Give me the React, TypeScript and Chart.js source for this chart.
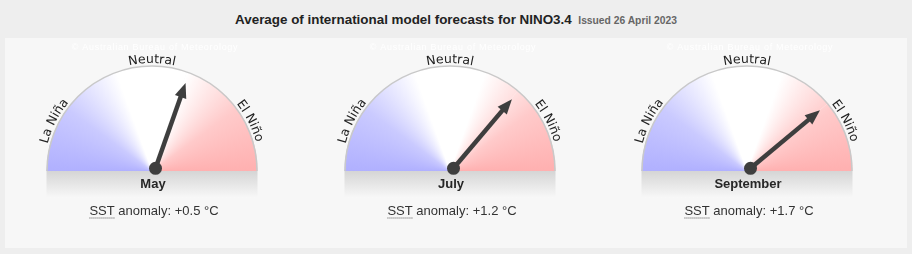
import React, { useEffect, useRef } from "react";
import { Chart, registerables } from "chart.js";

Chart.register(...registerables);

// ---- data ----
const titleText = "Average of international model forecasts for NINO3.4";
const issuedText = "Issued 26 April 2023";
const months = ["May", "July", "September"];
const anomalies = [0.5, 1.2, 1.7];
const phaseLabels = ["La Niña", "Neutral", "El Niño"];
const phaseAngles = [-63, 0, 63];
const watermarkText = "© Australian Bureau of Meteorology";

// ---- dial scale: maps an anomaly (°C) to a fraction of the half dial ----
const DIAL_SCALE = 1.42;
function needleFraction(v: number) {
  const t = Math.atan(v / DIAL_SCALE) / (Math.PI / 2); // -1..1
  return 0.5 + t / 2;
}

// ---- layout ----
const gaugeCenters = [152.2, 450, 746.7];
const CANVAS_W = 300;
const CANVAS_H = 209;
const DIAL_CY = 133;
const DIAL_R = 105.5;
const SANS = "'Liberation Sans', Arial, Helvetica, sans-serif";

function drawArcText(ctx: CanvasRenderingContext2D, text: string, cx: number, cy: number, radius: number, center: number) {
  const total = ctx.measureText(text).width;
  let a = center - total / 2 / radius;
  for (const ch of Array.from(text)) {
    const w = ctx.measureText(ch).width;
    const mid = a + w / 2 / radius;
    ctx.save();
    ctx.translate(cx + radius * Math.sin(mid), cy - radius * Math.cos(mid));
    ctx.rotate(mid);
    ctx.textAlign = "center";
    ctx.textBaseline = "alphabetic";
    ctx.fillText(ch, 0, 0);
    ctx.restore();
    a += w / radius;
  }
}

const gaugePlugin = {
  id: "gauge",
  afterDatasetsDraw(chart: any, _args: any, opts: any) {
    const ctx: CanvasRenderingContext2D = chart.ctx;
    const arc = chart.getDatasetMeta(0).data[0];
    const { x: cx, y: cy, outerRadius: r, endAngle } = arc.getProps(["x", "y", "outerRadius", "endAngle"], true);
    ctx.save();

    // outer rim
    ctx.beginPath();
    ctx.arc(cx, cy, r - 0.5, Math.PI, 2 * Math.PI);
    ctx.strokeStyle = "#c9c9c9";
    ctx.lineWidth = 1.5;
    ctx.stroke();

    // grey band
    const band = ctx.createLinearGradient(0, cy, 0, cy + 27);
    band.addColorStop(0, "#d5d5d5");
    band.addColorStop(1, "#f8f8f8");
    ctx.fillStyle = band;
    ctx.fillRect(cx - r, cy, 2 * r, 27);

    // watermark
    ctx.font = `9px ${SANS}`;
    (ctx as any).letterSpacing = "0.7px";
    ctx.fillStyle = "#ffffff";
    ctx.textAlign = "center";
    ctx.textBaseline = "alphabetic";
    ctx.fillText(watermarkText, cx + 3, cy - 121.5);
    (ctx as any).letterSpacing = "0px";

    // phase labels along the rim
    ctx.font = "12.5px 'DejaVu Sans', sans-serif";
    ctx.fillStyle = "#222222";
    phaseLabels.forEach((lab, i) => {
      drawArcText(ctx, lab, cx, cy, r + 2.5, (phaseAngles[i] * Math.PI) / 180);
    });

    // month label
    ctx.font = `bold 13px ${SANS}`;
    ctx.fillStyle = "#262626";
    ctx.textAlign = "center";
    ctx.fillText(opts.month, cx + 1, cy + 16.5);

    // SST anomaly line
    ctx.font = `13px ${SANS}`;
    ctx.fillStyle = "#333333";
    const v = opts.value as number;
    const prefix = "SST";
    const rest = ` anomaly: ${v >= 0 ? "+" : ""}${v.toFixed(1)} °C`;
    const wp = ctx.measureText(prefix).width;
    const wr = ctx.measureText(rest).width;
    const x0 = cx + 2 - (wp + wr) / 2;
    const base = cy + 43.5;
    ctx.textAlign = "left";
    ctx.fillText(prefix, x0, base);
    ctx.fillText(rest, x0 + wp, base);
    ctx.beginPath();
    ctx.setLineDash([1, 1]);
    ctx.strokeStyle = "#555555";
    ctx.lineWidth = 1;
    ctx.moveTo(x0, base + 3.5);
    ctx.lineTo(x0 + wp, base + 3.5);
    ctx.stroke();
    ctx.setLineDash([]);

    // needle
    const px = cx + 3.5;
    const py = cy - 2.7;
    const L = 90.5;
    const head = 15;
    const hw = 6;
    const ux = Math.cos(endAngle);
    const uy = Math.sin(endAngle);
    const nx = -uy;
    const ny = ux;
    ctx.strokeStyle = "#3e3e3e";
    ctx.fillStyle = "#3e3e3e";
    ctx.lineWidth = 4.5;
    ctx.lineCap = "butt";
    ctx.beginPath();
    ctx.moveTo(px, py);
    ctx.lineTo(px + ux * (L - head + 2), py + uy * (L - head + 2));
    ctx.stroke();
    const tx = px + ux * L;
    const ty = py + uy * L;
    const bx = px + ux * (L - head);
    const by = py + uy * (L - head);
    ctx.beginPath();
    ctx.moveTo(tx, ty);
    ctx.lineTo(bx + nx * hw, by + ny * hw);
    ctx.lineTo(bx - nx * hw, by - ny * hw);
    ctx.closePath();
    ctx.fill();
    ctx.beginPath();
    ctx.arc(px, py, 6.5, 0, 2 * Math.PI);
    ctx.fill();

    ctx.restore();
  },
};

function dialFill(c: any) {
  const chart = c.chart;
  const area = chart.chartArea;
  if (!area) return "#ffffff";
  const x = (area.left + area.right) / 2;
  const y = area.bottom;
  const g = chart.ctx.createConicGradient(Math.PI, x, y);
  g.addColorStop(0, "rgb(176,176,255)");
  g.addColorStop(0.5 * 0.2, "rgb(202,202,255)");
  g.addColorStop(0.5 * 0.39, "rgb(255,255,255)");
  g.addColorStop(0.5 * 0.61, "rgb(255,255,255)");
  g.addColorStop(0.5 * 0.8, "rgb(255,202,202)");
  g.addColorStop(0.5, "rgb(255,176,176)");
  g.addColorStop(1, "rgb(255,176,176)");
  return g;
}

function Gauge({ index }: { index: number }) {
  const ref = useRef<HTMLCanvasElement | null>(null);
  useEffect(() => {
    if (!ref.current) return;
    const f = needleFraction(anomalies[index]);
    const padX = CANVAS_W / 2 - DIAL_R;
    const chart = new Chart(ref.current, {
      type: "doughnut",
      data: {
        labels: ["to needle", "rest"],
        datasets: [
          {
            data: [f, 1 - f],
            backgroundColor: dialFill as any,
            borderWidth: 0,
            hoverOffset: 0,
          },
        ],
      },
      options: {
        responsive: false,
        animation: false,
        events: [],
        rotation: -90,
        circumference: 180,
        cutout: 0,
        layout: {
          padding: {
            left: padX,
            right: padX,
            top: DIAL_CY - DIAL_R,
            bottom: CANVAS_H - DIAL_CY,
          },
        },
        plugins: {
          legend: { display: false },
          tooltip: { enabled: false },
          gauge: { month: months[index], value: anomalies[index] },
        } as any,
      },
      plugins: [gaugePlugin as any],
    });
    return () => chart.destroy();
  }, [index]);
  return (
    <canvas
      ref={ref}
      width={CANVAS_W}
      height={CANVAS_H}
      style={{
        position: "absolute",
        left: gaugeCenters[index] - CANVAS_W / 2,
        top: 38,
        width: CANVAS_W,
        height: CANVAS_H,
      }}
    />
  );
}

export default function App() {
  return (
    <div
      style={{
        position: "fixed",
        left: 0,
        top: 0,
        width: 912,
        height: 254,
        background: "#eeeeee",
        overflow: "hidden",
        fontFamily: SANS,
      }}
    >
      <div
        style={{
          position: "absolute",
          left: 0,
          top: 12,
          width: 912,
          textAlign: "center",
          lineHeight: "16px",
          fontSize: 13.4,
          fontWeight: "bold",
          color: "#222",
          whiteSpace: "nowrap",
        }}
      >
        <span>{titleText}</span>
        <span style={{ fontSize: 10.3, color: "#666", marginLeft: 6.6 }}>{issuedText}</span>
      </div>
      <div
        style={{
          position: "absolute",
          left: 5,
          top: 38,
          width: 902,
          height: 210,
          background: "#f7f7f7",
        }}
      />
      {months.map((_, i) => (
        <Gauge key={i} index={i} />
      ))}
    </div>
  );
}
